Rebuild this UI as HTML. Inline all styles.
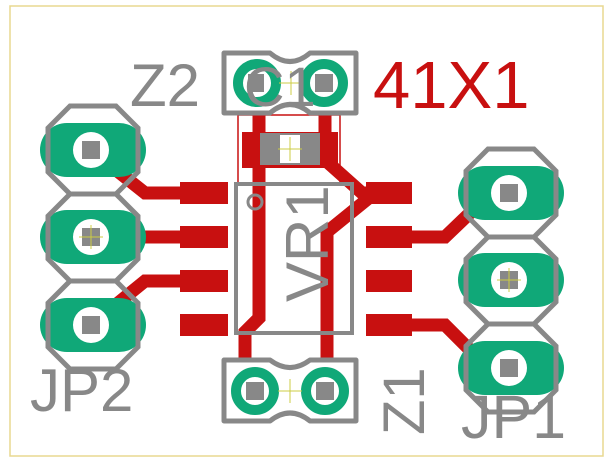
<!DOCTYPE html>
<html><head><style>html,body{margin:0;padding:0;background:#fff}svg{display:block}</style></head><body>
<svg width="607" height="459" viewBox="0 0 607 459" xmlns="http://www.w3.org/2000/svg" font-family="Liberation Sans, sans-serif">
<rect x="10" y="6" width="593" height="450" fill="#fff" stroke="#e8d890" stroke-width="1.5"/>
<g stroke="#c81010" stroke-width="13" fill="none" stroke-linejoin="miter">
<polyline points="91,150 145,193 200,193"/>
<polyline points="91,237 200,237"/>
<polyline points="91,325 145,281 200,281"/>
<polyline points="259,115 259,318 245,332 245,360"/>
<polyline points="325,115 325,160 362,193 380,193"/>
<polyline points="375,193 327,232 327,360"/>
<polyline points="380,237 445,237 470,213"/>
<polyline points="380,325 445,325 470,350"/>
</g>
<g fill="#c81010">
<rect x="180" y="182" width="48" height="22"/><rect x="180" y="226" width="48" height="22"/>
<rect x="180" y="270" width="48" height="22"/><rect x="180" y="314" width="48" height="22"/>
<rect x="366" y="182" width="46" height="22"/><rect x="366" y="226" width="46" height="22"/>
<rect x="366" y="270" width="46" height="22"/><rect x="366" y="314" width="46" height="22"/>
<rect x="242" y="132" width="96" height="36"/>
</g>
<rect x="238" y="115" width="102" height="68" fill="none" stroke="#c81010" stroke-width="1.5"/>
<rect x="260" y="133" width="60" height="32" fill="#888"/>
<rect x="280" y="135" width="20" height="28" fill="#fff"/>
<g stroke="#cc4" stroke-width="1"><line x1="278" y1="149" x2="302" y2="149"/><line x1="290" y1="137" x2="290" y2="161"/></g>
<rect x="236" y="184" width="116" height="149" fill="none" stroke="#888" stroke-width="4"/>
<circle cx="255" cy="202" r="7" fill="none" stroke="#888" stroke-width="3"/>
<g id="hdr">
<g fill="#10a878">
<rect x="40" y="123" width="106" height="54" rx="27"/>
<rect x="40" y="210" width="106" height="54" rx="27"/>
<rect x="40" y="298" width="106" height="54" rx="27"/>
</g>
<g fill="none" stroke="#888" stroke-width="5">
<polygon points="70,106 116,106 138,128 138,172 116,194 70,194 48,172 48,128"/>
<polygon points="70,194 116,194 138,216 138,259 116,281 70,281 48,259 48,216"/>
<polygon points="70,281 116,281 138,303 138,347 116,369 70,369 48,347 48,303"/>
</g>
<g fill="#fff"><circle cx="91" cy="150" r="18"/><circle cx="91" cy="237" r="18"/><circle cx="91" cy="325" r="18"/></g>
<g fill="#888"><rect x="82" y="141" width="18" height="18"/><rect x="82" y="228" width="18" height="18"/><rect x="82" y="316" width="18" height="18"/></g>
</g>
<use href="#hdr" transform="translate(418,43)"/>
<g stroke="#cc4" stroke-width="1"><line x1="79" y1="237" x2="103" y2="237"/><line x1="91" y1="225" x2="91" y2="249"/>
<line x1="497" y1="280" x2="521" y2="280"/><line x1="509" y1="268" x2="509" y2="292"/></g>
<path d="M224,53 H270 Q290,70 310,53 H356 V113 H310 Q290,96 270,113 H224 Z" fill="none" stroke="#888" stroke-width="5" stroke-linejoin="round"/>
<g fill="none" stroke="#10a878" stroke-width="10"><circle cx="257" cy="83" r="19"/><circle cx="324" cy="83" r="19"/>
<circle cx="255" cy="391" r="19"/><circle cx="325" cy="391" r="19"/></g>
<g fill="#888"><rect x="248" y="74" width="16" height="18"/><rect x="315" y="74" width="18" height="18"/>
<rect x="246" y="382" width="18" height="18"/><rect x="316" y="382" width="18" height="18"/></g>
<path d="M224,360 H270 Q290,375 310,360 H356 V421 H310 Q290,405 270,421 H224 Z" fill="none" stroke="#888" stroke-width="5" stroke-linejoin="round"/>
<g stroke="#cc4" stroke-width="1"><line x1="279" y1="83" x2="303" y2="83"/><line x1="291" y1="71" x2="291" y2="95"/>
<line x1="278" y1="391" x2="302" y2="391"/><line x1="290" y1="379" x2="290" y2="403"/></g>
<g fill="#888" font-size="58">
<text x="130" y="106" font-size="60">Z2</text>
<text x="30" y="411" font-size="60">JP2</text>
<text x="461" y="438" font-size="61">JP1</text>
<text transform="translate(424,435) rotate(-90)">Z1</text>
<text transform="translate(328,302) rotate(-90)" font-size="60">VR1</text>
<text x="244" y="106" font-size="56">C1</text>
</g>
<text x="373" y="108" fill="#c81010" font-size="67">41X1</text>
</svg>
</body></html>
